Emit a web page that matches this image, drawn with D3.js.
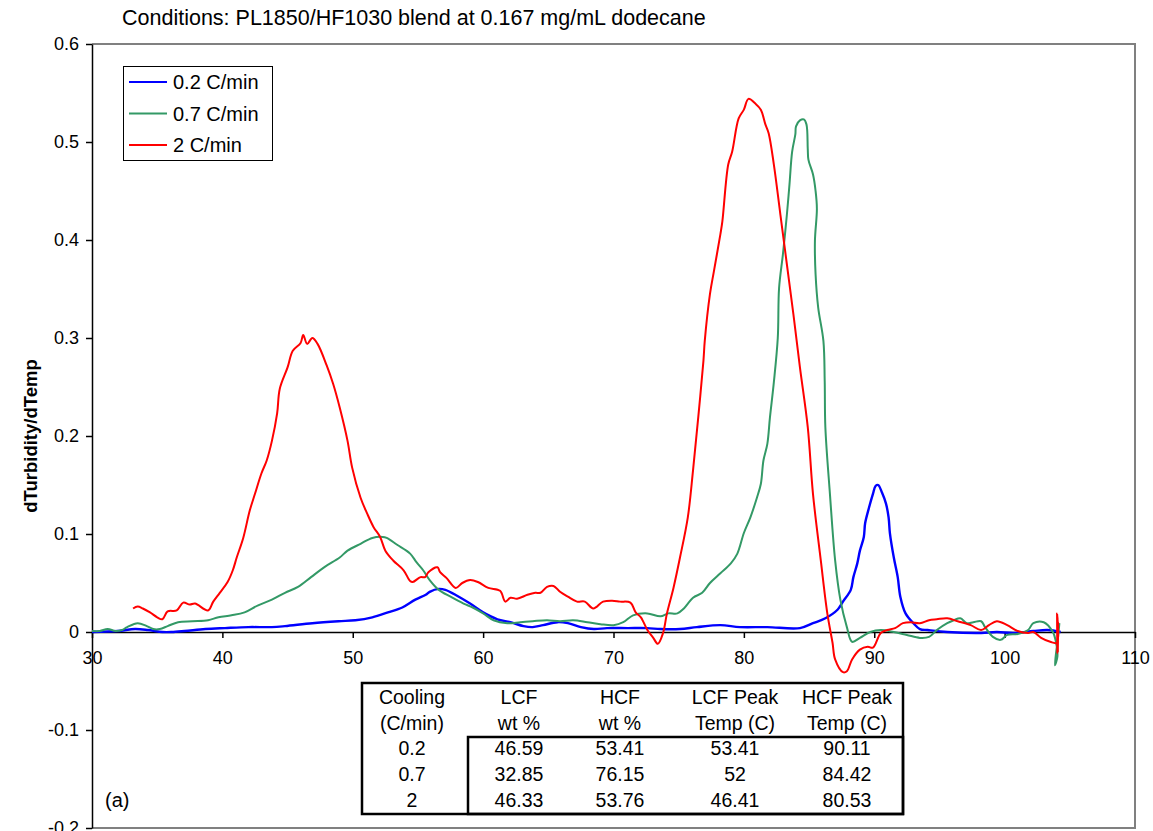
<!DOCTYPE html>
<html>
<head>
<meta charset="utf-8">
<script src="https://cdn.jsdelivr.net/npm/d3@7"></script>
<style>
  body { margin: 0; background: #fff; }
  svg { font-family: "Liberation Sans", Arial, sans-serif; }
</style>
</head>
<body>
<div id="chart"></div>
<script>
// [temperature C, dTurbidity/dTemp]
var rate02 = [[30,0],[32,0.001],[33.3,0.003],[34.3,0.002],[35.4,0],[36.1,0],[37.1,0.001],[38.7,0.003],
  [40.2,0.004],[42,0.005],[43.8,0.005],[44.8,0.006],[46.9,0.009],[48.9,0.011],[50.2,0.012],[51.5,0.015],
  [52.7,0.02],[53.8,0.025],[54.8,0.033],[55.6,0.038],[55.9,0.041],[56.6,0.044],[57.1,0.043],[58,0.037],
  [59,0.029],[60,0.02],[61.1,0.013],[62.1,0.01],[63.1,0.006],[63.8,0.005],[64.6,0.007],[65.7,0.01],
  [66.5,0.009],[67.5,0.005],[68.5,0.003],[69.5,0.004],[71.1,0.004],[72.6,0.004],[73.6,0.003],[75.1,0.003],
  [76.4,0.005],[78.2,0.007],[79.7,0.005],[81.8,0.005],[84.3,0.004],[85.3,0.009],[86.25,0.014],[87.2,0.023],
  [87.6,0.031],[88.2,0.043],[88.4,0.056],[88.7,0.07],[88.9,0.083],[89.2,0.097],[89.3,0.111],[89.6,0.127],
  [89.9,0.141],[90.1,0.149],[90.3,0.15],[90.6,0.142],[90.9,0.131],[91.1,0.117],[91.2,0.101],[91.5,0.076],
  [91.8,0.056],[92,0.036],[92.4,0.019],[93,0.009],[93.5,0.003],[94.1,0.002],[95.6,0],[98.2,-0.001],
  [99.4,0],[100.7,-0.001],[102.2,0.001],[103.3,0.002],[104.3,0]];

var rate07 = [[30,0.001],[30.6,0.001],[31.2,0.003],[31.8,0.001],[32.3,0.002],[32.7,0.005],[33.5,0.009],
  [34.2,0.006],[34.7,0.003],[35.2,0.003],[35.8,0.006],[36.6,0.01],[37.7,0.011],[38.9,0.012],[39.7,0.015],
  [40.7,0.017],[41.7,0.02],[42.7,0.027],[43.8,0.033],[44.8,0.04],[45.8,0.046],[46.8,0.056],[47.8,0.066],
  [49,0.076],[49.6,0.083],[50.6,0.09],[51.5,0.096],[52.3,0.097],[52.6,0.096],[53.4,0.089],[54.4,0.08],
  [54.9,0.071],[55.4,0.063],[55.9,0.053],[56.6,0.043],[57.5,0.036],[58.5,0.029],[59.2,0.025],[60,0.019],
  [60.8,0.012],[61.85,0.009],[62.85,0.01],[63.8,0.011],[64.9,0.012],[65.9,0.011],[66.9,0.012],[68,0.01],
  [69,0.008],[70,0.007],[70.75,0.01],[71.5,0.017],[72.6,0.019],[73.6,0.016],[74.2,0.019],[74.9,0.019],
  [75.4,0.024],[76.1,0.035],[76.8,0.04],[77.4,0.05],[78.2,0.06],[79,0.07],[79.5,0.08],[80,0.101],
  [80.5,0.117],[81,0.137],[81.3,0.151],[81.5,0.175],[81.8,0.192],[82,0.219],[82.3,0.255],[82.6,0.3],
  [82.7,0.351],[83,0.386],[83.3,0.426],[83.5,0.457],[83.7,0.49],[83.95,0.508],[84,0.516],[84.3,0.522],
  [84.6,0.523],[84.8,0.518],[84.9,0.493],[84.95,0.482],[85.3,0.467],[85.5,0.45],[85.6,0.432],[85.45,0.399],
  [85.5,0.365],[85.7,0.331],[86.1,0.297],[86.2,0.256],[86.25,0.209],[86.6,0.141],[87,0.073],[87.4,0.033],
  [87.9,0.005],[88.3,-0.01],[88.9,-0.006],[89.7,0],[90.5,0.002],[91.5,0],[92.5,-0.003],[93.5,-0.006],
  [94.2,-0.005],[94.8,0.002],[95.6,0.009],[96.1,0.012],[96.6,0.014],[97.1,0.009],[97.6,0.01],[98.2,0.011],
  [98.5,0.005],[99.1,-0.005],[99.7,-0.008],[100.2,-0.003],[101,-0.002],[101.8,0.002],[102.2,0.009],
  [103,0.01],[103.7,0],[103.9,-0.008],[104.05,-0.025],[103.85,-0.034],[104.1,-0.005],[104.2,0.009]];

var rate2 = [[33.15,0.024],[33.5,0.026],[33.9,0.024],[34.45,0.02],[35,0.015],[35.4,0.013],[35.8,0.021],
  [36.5,0.022],[37,0.03],[37.5,0.028],[37.9,0.029],[38.9,0.022],[39.3,0.031],[39.8,0.04],[40.4,0.051],
  [40.8,0.063],[41.1,0.076],[41.6,0.096],[42.1,0.124],[42.5,0.141],[43,0.162],[43.4,0.175],[43.8,0.195],
  [44.2,0.223],[44.4,0.248],[45,0.27],[45.4,0.287],[46,0.295],[46.2,0.303],[46.5,0.294],[46.9,0.3],
  [47.3,0.294],[48,0.272],[48.5,0.253],[49,0.229],[49.6,0.195],[49.95,0.168],[50.6,0.137],[51.1,0.121],
  [51.6,0.107],[52.1,0.097],[52.5,0.083],[53.1,0.073],[53.9,0.063],[54.4,0.052],[54.6,0.051],[55.2,0.056],
  [55.55,0.056],[55.8,0.061],[56.5,0.066],[56.7,0.061],[57.2,0.055],[57.9,0.045],[58.4,0.05],[59,0.053],
  [59.6,0.051],[60.4,0.045],[61.3,0.042],[61.7,0.031],[62.1,0.035],[62.6,0.034],[63.4,0.038],[64,0.04],
  [64.4,0.04],[64.9,0.046],[65.4,0.047],[65.9,0.041],[66.5,0.036],[67.2,0.031],[67.8,0.031],[68.45,0.024],
  [69.2,0.031],[69.9,0.032],[70.5,0.031],[71.3,0.03],[71.7,0.02],[72.1,0.015],[72.6,0.002],[73.05,-0.006],
  [73.4,-0.012],[73.8,-0.001],[74.1,0.019],[74.6,0.045],[75.1,0.076],[75.7,0.117],[76.1,0.165],
  [76.5,0.219],[76.9,0.277],[77,0.297],[77.4,0.345],[77.7,0.368],[78.2,0.406],[78.35,0.419],[78.8,0.477],
  [79.1,0.49],[79.6,0.524],[80,0.533],[80.35,0.544],[80.9,0.539],[81.3,0.533],[81.65,0.518],[81.9,0.509],
  [82.3,0.477],[82.8,0.426],[83.3,0.375],[83.8,0.324],[84.3,0.27],[84.9,0.209],[85.3,0.141],[85.9,0.073],
  [86.4,0.019],[86.8,-0.011],[87,-0.028],[87.6,-0.041],[87.9,-0.04],[88.3,-0.028],[88.9,-0.018],
  [89.5,-0.015],[89.9,-0.016],[90.5,-0.001],[91,0.002],[91.6,0.004],[92.2,0.009],[92.8,0.01],[93.5,0.009],
  [94.2,0.012],[94.8,0.013],[95.6,0.014],[96.4,0.011],[97.4,0.007],[98.2,0.002],[98.8,0.007],[99.4,0.011],
  [100.2,0.007],[101,0.001],[101.8,-0.001],[102.2,0],[102.8,-0.006],[103.5,-0.01],[104,-0.011],
  [104.02,0.019],[104.04,-0.022],[104.06,0.015],[104.08,-0.02],[104.1,0.01]];

var seriesNames = ["0.2 C/min", "0.7 C/min", "2 C/min"];
var seriesColors = ["#0000ff", "#339966", "#ff0000"];
var xTicks = [30, 40, 50, 60, 70, 80, 90, 100, 110];
var yTicks = [-0.2, -0.1, 0, 0.1, 0.2, 0.3, 0.4, 0.5, 0.6];

var tableHead1 = ["Cooling", "LCF", "HCF", "LCF Peak", "HCF Peak"];
var tableHead2 = ["(C/min)", "wt %", "wt %", "Temp (C)", "Temp (C)"];
var tableRows = [["0.2", "46.59", "53.41", "53.41", "90.11"],
                 ["0.7", "32.85", "76.15", "52", "84.42"],
                 ["2", "46.33", "53.76", "46.41", "80.53"]];

(function () {
  var width = 1153, height = 831;
  var m = { left: 92, right: 1135, top: 44, bottom: 828 };

  var svg = d3.select("#chart").append("svg")
      .attr("width", width)
      .attr("height", height);

  var x = d3.scaleLinear().domain([30, 110]).range([m.left, m.right]);
  var y = d3.scaleLinear().domain([-0.2, 0.6]).range([m.bottom, m.top]);

  // grey frame top / right / bottom
  svg.append("path")
    .attr("d", "M" + m.left + "," + m.top + "H" + m.right + "V" + m.bottom + "H" + m.left)
    .attr("fill", "none").attr("stroke", "#808080").attr("stroke-width", 2);

  // y axis
  var yAxis = svg.append("g")
    .attr("transform", "translate(" + m.left + ",0)")
    .call(d3.axisLeft(y).tickValues(yTicks).tickSize(6).tickSizeOuter(0).tickPadding(7)
      .tickFormat(function(d){ return String(+d.toFixed(1)); }));
  yAxis.selectAll("text").attr("font-size", 18).attr("fill", "#000")
    .style("font-family", "Liberation Sans, Arial, sans-serif");
  yAxis.selectAll("line, path").attr("stroke", "#000").attr("stroke-width", 1.5);

  // x axis along zero
  var xAxis = svg.append("g")
    .attr("transform", "translate(0," + y(0) + ")")
    .call(d3.axisBottom(x).tickValues(xTicks).tickSize(6).tickSizeOuter(0).tickPadding(13));
  xAxis.selectAll("text").attr("font-size", 18).attr("fill", "#000")
    .style("font-family", "Liberation Sans, Arial, sans-serif");
  xAxis.selectAll("line, path").attr("stroke", "#000").attr("stroke-width", 1.5);

  // curves, lightly smoothed between read points
  var line = d3.line()
    .curve(d3.curveCatmullRom.alpha(0.5))
    .x(function(d){ return x(d[0]); })
    .y(function(d){ return y(d[1]); });

  [rate02, rate07, rate2].forEach(function(data, i){
    svg.append("path")
      .datum(data)
      .attr("fill", "none")
      .attr("stroke", seriesColors[i])
      .attr("stroke-width", i === 0 ? 2.4 : 2)
      .attr("stroke-linejoin", "round")
      .attr("d", line);
  });

  // title
  svg.append("text")
    .attr("x", 122).attr("y", 25)
    .attr("font-size", 21.5)
    .text("Conditions: PL1850/HF1030 blend at 0.167 mg/mL dodecane");

  // y label
  svg.append("text")
    .attr("transform", "translate(37,436) rotate(-90)")
    .attr("text-anchor", "middle")
    .attr("font-size", 18.5).attr("font-weight", "bold")
    .text("dTurbidity/dTemp");

  // legend
  var legend = svg.append("g");
  legend.append("rect")
    .attr("x", 123.5).attr("y", 66.5).attr("width", 149).attr("height", 94)
    .attr("fill", "#fff").attr("stroke", "#000").attr("stroke-width", 1);
  seriesNames.forEach(function(name, i){
    var ly = 82 + i * 31.5;
    legend.append("line")
      .attr("x1", 129).attr("x2", 167).attr("y1", ly).attr("y2", ly)
      .attr("stroke", seriesColors[i]).attr("stroke-width", 2);
    legend.append("text")
      .attr("x", 173).attr("y", ly + 7)
      .attr("font-size", 20)
      .text(name);
  });

  // (a)
  svg.append("text").attr("x", 105).attr("y", 807).attr("font-size", 20).text("(a)");

  // table
  var colX = [412, 519, 620, 735, 847];
  var table = svg.append("g");
  table.append("rect")
    .attr("x", 362).attr("y", 683).attr("width", 541).attr("height", 131)
    .attr("fill", "#fff").attr("stroke", "#000").attr("stroke-width", 2.5);
  table.append("rect")
    .attr("x", 468).attr("y", 737).attr("width", 435).attr("height", 77)
    .attr("fill", "none").attr("stroke", "#000").attr("stroke-width", 2.5);

  function tableLine(cells, ty) {
    cells.forEach(function(c, j){
      table.append("text")
        .attr("x", colX[j]).attr("y", ty)
        .attr("text-anchor", "middle")
        .attr("font-size", 19.5)
        .text(c);
    });
  }
  tableLine(tableHead1, 704);
  tableLine(tableHead2, 730);
  tableRows.forEach(function(r, i){ tableLine(r, 755 + i * 26); });
}());
</script>
</body>
</html>
